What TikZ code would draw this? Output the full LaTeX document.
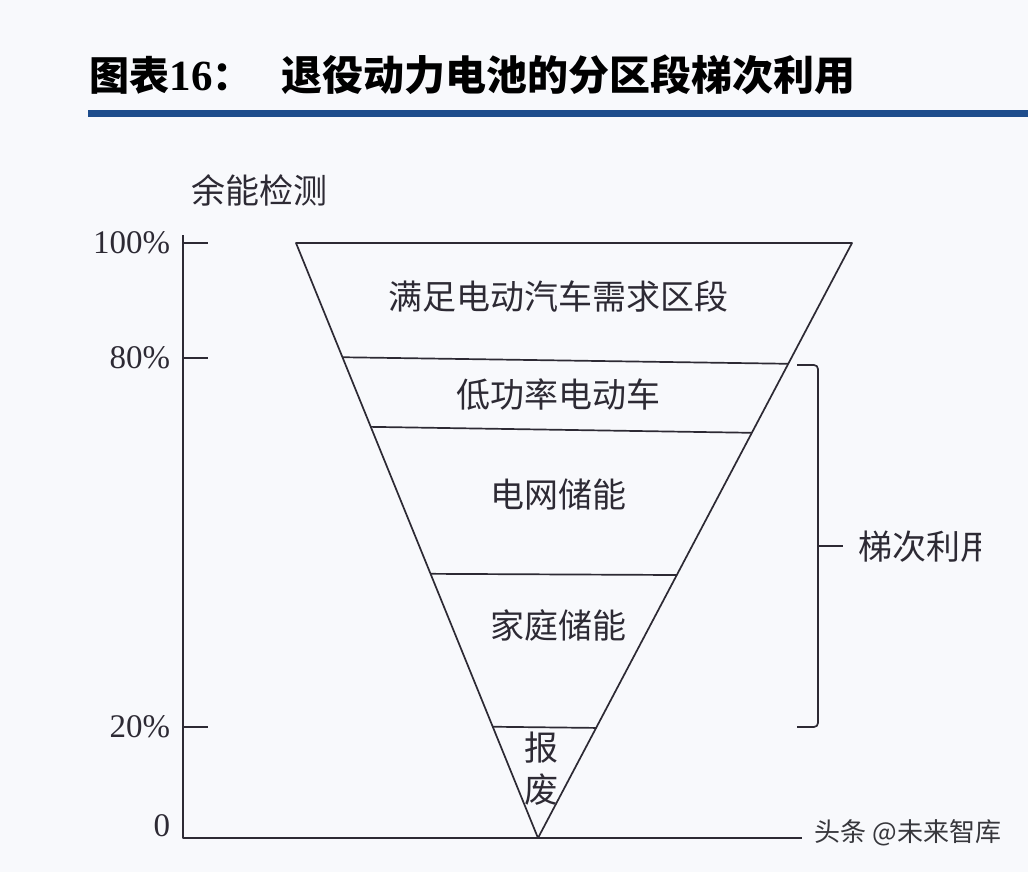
\documentclass[tikz,border=0pt]{standalone}
\usepackage{fontspec}
\setmainfont{Liberation Serif}
\newfontfamily\cjk{Noto Sans CJK SC}
\usetikzlibrary{calc}
\definecolor{bg}{RGB}{248,249,252}
\definecolor{titleblue}{RGB}{30,77,140}
\definecolor{ink}{RGB}{45,42,52}
\begin{document}
\begin{tikzpicture}[x=1pt,y=-1pt,line width=1.7pt,line join=round,
  seg/.style={font=\cjk\fontsize{34}{34}\selectfont,text=ink,inner sep=0pt},
  pct/.style={font=\fontsize{33}{33}\selectfont,text=ink,anchor=east,inner sep=0pt}]
\fill[bg] (0,0) rectangle (1028,872);
\useasboundingbox (0,0) rectangle (1028,872);

% title
\node[anchor=west,inner sep=0pt,font=\fontsize{40}{40}\selectfont\bfseries] (titlenum) at (89,75) {{\cjk 图表}{\fontsize{43}{43}\selectfont 16}{\cjk ：}};
\node[anchor=west,inner sep=0pt,font=\cjk\fontsize{41}{41}\selectfont\bfseries] (titletext) at (281,75) {退役动力电池的分区段梯次利用};
\fill[titleblue] (88,110) rectangle (1028,117);

% axes
\coordinate (o) at (183,838);
\draw[ink] (183,235) -- (o) -- (802,838);
\foreach \y/\lab/\nm in {243/100\%/p100, 358/80\%/p80, 727/20\%/p20}{
  \draw[ink] (183,\y) -- (208,\y);
  \node[pct] (\nm) at (171,\y) {\lab};
}
\node[pct] (p0) at (171,826) {0};
\node[seg] (soc) at (259,190) {余能检测};

% funnel
\coordinate (tl) at (296,243);
\coordinate (tr) at (852,243);
\coordinate (apex) at (538,838);
\draw[ink] (tl) -- (tr) -- (apex) -- cycle;
\foreach \a/\b [count=\i] in {0.192/0.203, 0.309/0.319, 0.556/0.558, 0.813/0.815}
  \draw[ink] ($(tl)!\a!(apex)$) coordinate (l\i) -- ($(tr)!\b!(apex)$) coordinate (r\i);

\node[seg] (s1) at (558,297) {满足电动汽车需求区段};
\node[seg] (s2) at (558,395) {低功率电动车};
\node[seg] (s3) at (558,495) {电网储能};
\node[seg] (s4) at (558,625) {家庭储能};
\node[seg,align=center,font=\cjk\fontsize{34}{42}\selectfont] (s5) at (541,769) {报\\废};

% bracket
\draw[ink,rounded corners=4pt] (797,365) -- (818,365) -- (818,727) -- (797,727);
\coordinate (tip) at (818,546);
\draw[ink] (tip) -- (843,546);
\begin{scope}
\clip (0,0) rectangle (980,872);
\node[seg,anchor=west] (reuse) at (858,547) {梯次利用};
\end{scope}

% watermark
\node[anchor=west,inner sep=0pt,text={rgb,255:red,55;green,55;blue,60},font=\cjk\fontsize{26}{26}\selectfont] (wm) at (814,833) {头条 @未来智库};
\end{tikzpicture}
\end{document}
